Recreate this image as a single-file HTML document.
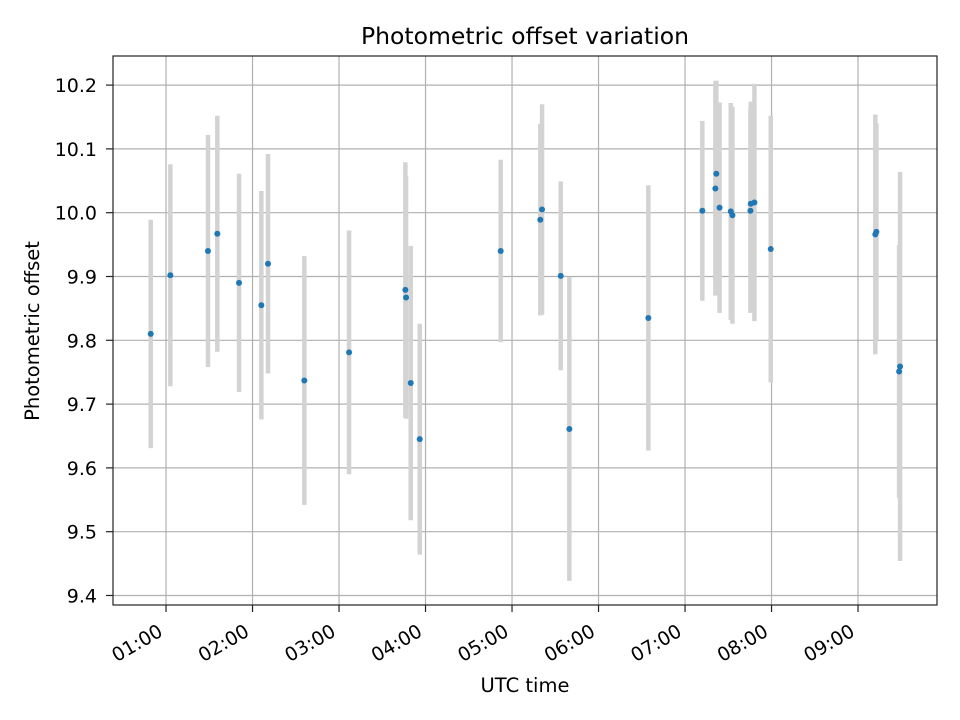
<!DOCTYPE html>
<html><head><meta charset="utf-8"><style>
body{margin:0;background:#fff;}
svg{display:block;font-family:"DejaVu Sans","Liberation Sans",sans-serif;}
</style></head><body>
<svg id="chart" width="960" height="720" viewBox="0 0 960 720">
<rect width="960" height="720" fill="#fff"/>
<g id="grid"></g>
<g id="errs"></g>
<g id="pts"></g>
<rect x="113" y="56" width="824" height="549" fill="none" stroke="#222" stroke-width="1.2"/>
<g id="ticks"></g>
<text x="525" y="44" text-anchor="middle" font-size="23.5">Photometric offset variation</text>
<text x="525" y="692" text-anchor="middle" font-size="19.5">UTC time</text>
<text transform="translate(39,331) rotate(-90)" text-anchor="middle" font-size="19.5">Photometric offset</text>
</svg>
<script>
// times in hours UTC
const times = [0.823,1.050,1.485,1.593,1.844,2.102,2.179,2.599,3.116,3.767,3.775,3.829,3.933,4.869,5.327,5.347,5.563,5.663,6.576,7.200,7.351,7.362,7.399,7.529,7.548,7.756,7.760,7.802,7.991,9.200,9.212,9.486,9.475];
const offsets = [9.810,9.902,9.940,9.967,9.890,9.855,9.920,9.737,9.781,9.879,9.867,9.733,9.645,9.940,9.989,10.005,9.901,9.661,9.835,10.003,10.038,10.061,10.008,10.002,9.996,10.003,10.014,10.016,9.943,9.966,9.970,9.759,9.751];
const errors = [0.179,0.174,0.182,0.185,0.171,0.179,0.172,0.195,0.191,0.2,0.19,0.215,0.181,0.143,0.15,0.165,0.148,0.238,0.208,0.141,0.168,0.146,0.165,0.17,0.17,0.16,0.16,0.186,0.209,0.188,0.17,0.305,0.198];
const yTicks = [9.4,9.5,9.6,9.7,9.8,9.9,10.0,10.1,10.2];
const yTickLabels = ["9.4","9.5","9.6","9.7","9.8","9.9","10.0","10.1","10.2"];
const xTicks = [1,2,3,4,5,6,7,8,9];
const xTickLabels = ["01:00","02:00","03:00","04:00","05:00","06:00","07:00","08:00","09:00"];

const L=113,R=937,T=56,B=605;
const x0=0.387,x1=9.913,y0=9.3851,y1=10.2456;
const xs=h=>L+(h-x0)/(x1-x0)*(R-L);
const ys=v=>B-(v-y0)/(y1-y0)*(B-T);
const NS="http://www.w3.org/2000/svg";
function mk(tag,attrs,parent){const e=document.createElementNS(NS,tag);for(const k in attrs)e.setAttribute(k,attrs[k]);parent.appendChild(e);return e;}
const grid=document.getElementById('grid'),ticks=document.getElementById('ticks'),errs=document.getElementById('errs'),pts=document.getElementById('pts');

xTicks.forEach((h,i)=>{
  const x=xs(h);
  const g=mk('line',{x1:x,x2:x,y1:T,y2:B,stroke:'#b0b0b0','stroke-width':1.2},grid);
  
  
  const t=mk('line',{x1:x,x2:x,y1:B,y2:B+7,stroke:'#222','stroke-width':1.2},ticks);
  
  
  const lb=mk('text',{transform:`translate(${x-2},${B+30}) rotate(-30)`,'text-anchor':'end','font-size':19},ticks);
  lb.textContent=xTickLabels[i];
  
  
});
yTicks.forEach((v,i)=>{
  const y=ys(v);
  const g=mk('line',{x1:L,x2:R,y1:y,y2:y,stroke:'#b0b0b0','stroke-width':1.2},grid);
  
  
  const t=mk('line',{x1:L-7,x2:L,y1:y,y2:y,stroke:'#222','stroke-width':1.2},ticks);
  
  
  const lb=mk('text',{x:L-16,y:y+7,'text-anchor':'end','font-size':19},ticks);
  lb.textContent=yTickLabels[i];
  
  
});
times.forEach((h,i)=>{
  const x=xs(h);
  const e=mk('line',{x1:x,x2:x,y1:ys(offsets[i]+errors[i]),y2:ys(offsets[i]-errors[i]),stroke:'#d3d3d3','stroke-width':4.5},errs);
  
  
});
times.forEach((h,i)=>{
  const c=mk('circle',{cx:xs(h),cy:ys(offsets[i]),r:3,fill:'#1f77b4'},pts);
  
  
});
</script>
</body></html>
